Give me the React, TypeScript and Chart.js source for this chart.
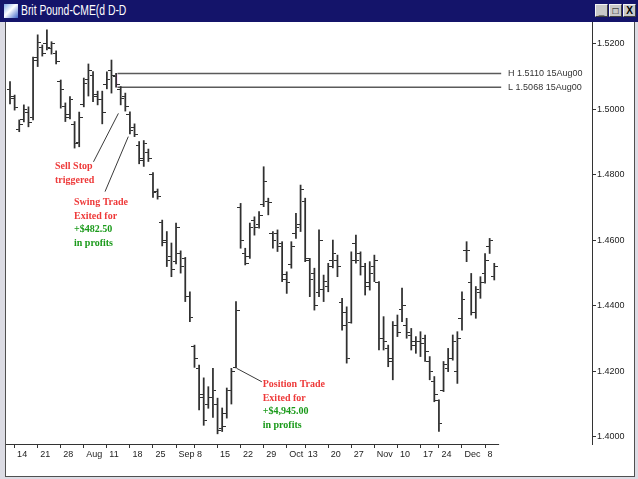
import React, { useEffect, useRef } from "react";
import { Chart, registerables } from "chart.js";

Chart.register(...registerables);

// Daily OHLC, British Pound (CME), 13 Jul 2000 .. 12 Dec 2000 (trading-day index 0..105)
const highs = [
  1.5085, 1.5044, 1.4968, 1.5014, 1.5008, 1.5160, 1.5228, 1.5197, 1.5243, 1.5207,
  1.5179, 1.5090, 1.5020, 1.5039, 1.4963, 1.4992, 1.5096, 1.5139, 1.5116, 1.5056,
  1.5056, 1.5115, 1.5151, 1.5110, 1.5070, 1.5050, 1.4993, 1.4956, 1.4902, 1.4905,
  1.4879, 1.4807, 1.4757, 1.4662, 1.4627, 1.4592, 1.4653, 1.4568, 1.4548, 1.4443,
  1.4280, 1.4219, 1.4180, 1.4153, 1.4209, 1.4118, 1.4088, 1.4149, 1.4209, 1.4413,
  1.4713, 1.4576, 1.4653, 1.4672, 1.4688, 1.4825, 1.4729, 1.4627, 1.4632, 1.4596,
  1.4504, 1.4596, 1.4683, 1.4769, 1.4729, 1.4545, 1.4515, 1.4632, 1.4494, 1.4530,
  1.4601, 1.4555, 1.4423, 1.4397, 1.4565, 1.4616, 1.4565, 1.4530, 1.4535, 1.4555,
  1.4474, 1.4367, 1.4280, 1.4352, 1.4372, 1.4454, 1.4362, 1.4331, 1.4306, 1.4321,
  1.4311, 1.4245, 1.4184, 1.4113, 1.4230, 1.4270, 1.4311, 1.4321, 1.4443, 1.4596,
  1.4499, 1.4459, 1.4489, 1.4560, 1.4606, 1.4530,
];
const lows = [
  1.5017, 1.4998, 1.4932, 1.4962, 1.4947, 1.4968, 1.5131, 1.5163, 1.5182, 1.5169,
  1.5139, 1.5004, 1.4963, 1.4971, 1.4882, 1.4886, 1.5008, 1.5041, 1.5024, 1.5014,
  1.4956, 1.5063, 1.5050, 1.5068, 1.5014, 1.4995, 1.4925, 1.4917, 1.4834, 1.4826,
  1.4841, 1.4731, 1.4726, 1.4583, 1.4520, 1.4489, 1.4528, 1.4500, 1.4413, 1.4352,
  1.4212, 1.4082, 1.4035, 1.4087, 1.4059, 1.4009, 1.4016, 1.4057, 1.4100, 1.4210,
  1.4576, 1.4525, 1.4545, 1.4616, 1.4637, 1.4703, 1.4678, 1.4576, 1.4566, 1.4474,
  1.4438, 1.4515, 1.4606, 1.4627, 1.4535, 1.4428, 1.4387, 1.4428, 1.4413, 1.4443,
  1.4516, 1.4489, 1.4326, 1.4225, 1.4347, 1.4530, 1.4494, 1.4433, 1.4448, 1.4474,
  1.4265, 1.4265, 1.4214, 1.4174, 1.4306, 1.4352, 1.4301, 1.4265, 1.4255, 1.4245,
  1.4230, 1.4174, 1.4107, 1.4016, 1.4138, 1.4199, 1.4234, 1.4163, 1.4326, 1.4535,
  1.4372, 1.4362, 1.4423, 1.4469, 1.4560, 1.4479,
];
const opens = [
  1.5060, 1.5035, 1.4940, 1.4970, 1.4990, 1.4975, 1.5160, 1.5190, 1.5200, 1.5185,
  1.5170, 1.5085, 1.5010, 1.4985, 1.4955, 1.4900, 1.5015, 1.5090, 1.5105, 1.5040,
  1.5030, 1.5075, 1.5120, 1.5100, 1.5060, 1.5040, 1.4985, 1.4945, 1.4890, 1.4850,
  1.4870, 1.4800, 1.4750, 1.4655, 1.4600, 1.4550, 1.4535, 1.4560, 1.4545, 1.4430,
  1.4275, 1.4210, 1.4130, 1.4100, 1.4120, 1.4100, 1.4025, 1.4070, 1.4140, 1.4212,
  1.4700, 1.4560, 1.4550, 1.4660, 1.4650, 1.4710, 1.4720, 1.4620, 1.4620, 1.4590,
  1.4495, 1.4525, 1.4620, 1.4650, 1.4720, 1.4540, 1.4500, 1.4440, 1.4450, 1.4460,
  1.4540, 1.4540, 1.4410, 1.4380, 1.4350, 1.4590, 1.4560, 1.4520, 1.4470, 1.4520,
  1.4470, 1.4300, 1.4270, 1.4230, 1.4340, 1.4390, 1.4340, 1.4310, 1.4280, 1.4290,
  1.4300, 1.4230, 1.4170, 1.4110, 1.4140, 1.4210, 1.4240, 1.4200, 1.4360, 1.4570,
  1.4470, 1.4380, 1.4440, 1.4500, 1.4580, 1.4490,
];
const closes = [
  1.5040, 1.5005, 1.4955, 1.5000, 1.4960, 1.5150, 1.5205, 1.5170, 1.5190, 1.5200,
  1.5145, 1.5060, 1.4975, 1.5030, 1.4895, 1.4975, 1.5080, 1.5120, 1.5045, 1.5030,
  1.4990, 1.5090, 1.5105, 1.5075, 1.5035, 1.5010, 1.4935, 1.4925, 1.4845, 1.4895,
  1.4850, 1.4745, 1.4735, 1.4595, 1.4540, 1.4510, 1.4640, 1.4520, 1.4430, 1.4365,
  1.4240, 1.4120, 1.4050, 1.4120, 1.4140, 1.4020, 1.4030, 1.4140, 1.4200, 1.4385,
  1.4600, 1.4530, 1.4640, 1.4640, 1.4675, 1.4780, 1.4715, 1.4600, 1.4580, 1.4480,
  1.4470, 1.4580, 1.4640, 1.4755, 1.4545, 1.4480, 1.4400, 1.4600, 1.4475, 1.4520,
  1.4560, 1.4520, 1.4340, 1.4240, 1.4540, 1.4540, 1.4520, 1.4460, 1.4500, 1.4540,
  1.4300, 1.4290, 1.4240, 1.4340, 1.4320, 1.4400, 1.4320, 1.4290, 1.4290, 1.4285,
  1.4260, 1.4200, 1.4130, 1.4040, 1.4220, 1.4240, 1.4290, 1.4300, 1.4420, 1.4570,
  1.4380, 1.4450, 1.4470, 1.4540, 1.4600, 1.4520,
];

// Weekly (Friday) date ticks on the time axis
const tickIndex = [1, 6, 11, 16, 21, 26, 31, 36, 40, 45, 50, 55, 60, 64, 69, 74, 79, 84, 89, 93, 98, 103];
const tickLabels = ["14", "21", "28", "Aug", "11", "18", "25", "Sep", "8", "15", "22", "29", "Oct", "13", "20", "27", "Nov", "10", "17", "24", "Dec", "8"];
const priceTicks = [1.40, 1.42, 1.44, 1.46, 1.48, 1.50, 1.52];

// Axis extent
const xMin = -0.87;
const xMax = 126.19;
const xAxisEnd = 106.05;
const yMin = 1.39779;
const yMax = 1.52672;

// 15 Aug 2000 high / low reference lines
const hlIndex = 23.1;
const hlLineStart = 23.3;
const hlLineEnd = 106.5;
const hlLabelX = 108.0;
const hlHigh = 1.5110;
const hlLow = 1.5068;
const hlLabels = ["H 1.5110 15Aug00", "L 1.5068 15Aug00"];

// Leader lines for the notes (index, price pairs)
const leaderSellX = [18.1, 23.5];
const leaderSellY = [1.4840, 1.4988];
const leaderSwingX = [20.6, 25.65];
const leaderSwingY = [1.4749, 1.4917];
const leaderPosX = [49.15, 54.6];
const leaderPosY = [1.4209, 1.4168];

// Note texts
const noteText = [
  "Sell Stop", "triggered",
  "Swing Trade", "Exited for", "+$482.50", "in profits",
  "Position Trade", "Exited for", "+$4,945.00", "in profits",
];
const noteColor = ["r", "r", "r", "r", "g", "g", "r", "r", "g", "g"];
const noteX = [9.76, 9.76, 13.88, 13.88, 13.88, 13.88, 54.79, 54.79, 54.79, 54.79];
const noteY = [1.4825, 1.4783, 1.4715, 1.4673, 1.4633, 1.4591, 1.4160, 1.4118, 1.4077, 1.4035];

const BAR = "#303030";

function makeTick(side: "l" | "r"): HTMLCanvasElement {
  const c = document.createElement("canvas");
  c.width = 7;
  c.height = 1;
  const g = c.getContext("2d")!;
  g.fillStyle = BAR;
  if (side === "l") g.fillRect(0, 0, 3, 1);
  else g.fillRect(4, 0, 3, 1);
  return c;
}

const overlay = {
  id: "overlay",
  afterDatasetsDraw(chart: any) {
    const { ctx, chartArea } = chart;
    const x = chart.scales.x;
    const y = chart.scales.y;
    ctx.save();
    // x axis line (only under the bars)
    ctx.strokeStyle = "#333";
    ctx.lineWidth = 1;
    const yb = Math.round(chartArea.bottom) + 0.5;
    ctx.beginPath();
    ctx.moveTo(chartArea.left, yb);
    ctx.lineTo(x.getPixelForValue(xAxisEnd), yb);
    ctx.stroke();

    // H / L labels
    ctx.font = "9px 'Liberation Sans', Arial, sans-serif";
    ctx.fillStyle = "#333";
    ctx.textBaseline = "middle";
    ctx.textAlign = "left";
    ctx.fillText(hlLabels[0], x.getPixelForValue(hlLabelX), y.getPixelForValue(hlHigh));
    ctx.fillText(hlLabels[1], x.getPixelForValue(hlLabelX), y.getPixelForValue(hlLow));

    // notes
    ctx.font = "bold 10px 'Liberation Serif', 'Times New Roman', serif";
    for (let i = 0; i < noteText.length; i++) {
      ctx.fillStyle = noteColor[i] === "r" ? "#ee3a3a" : "#1a9a1a";
      ctx.fillText(noteText[i], x.getPixelForValue(noteX[i]), y.getPixelForValue(noteY[i]));
    }
    ctx.restore();
  },
};

export default function App() {
  const ref = useRef<HTMLCanvasElement>(null);

  useEffect(() => {
    document.body.style.margin = "0";
    const leftTick = makeTick("l");
    const rightTick = makeTick("r");
    const line = (xs: number[], ys: number[], color: string, w: number) => ({
      type: "line" as const,
      data: xs.map((v, i) => ({ x: v, y: ys[i] })),
      borderColor: color,
      borderWidth: w,
      pointRadius: 0,
      fill: false,
      tension: 0,
    });

    const chart = new Chart(ref.current!, {
      type: "bar",
      data: {
        datasets: [
          {
            type: "bar",
            data: highs.map((h, i) => ({ x: i, y: [lows[i], h] })) as any,
            backgroundColor: BAR,
            borderWidth: 0,
            barThickness: 1.1,
            grouped: false,
          } as any,
          {
            type: "scatter",
            data: opens.map((o, i) => ({ x: i, y: o })),
            pointStyle: leftTick as any,
            pointRadius: 2,
          } as any,
          {
            type: "scatter",
            data: closes.map((c, i) => ({ x: i, y: c })),
            pointStyle: rightTick as any,
            pointRadius: 2,
          } as any,
          line([hlLineStart, hlLineEnd], [hlHigh, hlHigh], "#5a5a5a", 1.6),
          line([hlLineStart, hlLineEnd], [hlLow, hlLow], "#5a5a5a", 1.6),
          line([hlIndex, hlIndex], [hlLow, hlHigh], "#e040e0", 1.2),
          line(leaderSellX, leaderSellY, "#3a3a3a", 1),
          line(leaderSwingX, leaderSwingY, "#3a3a3a", 1),
          line(leaderPosX, leaderPosY, "#3a3a3a", 1),
        ] as any,
      },
      options: {
        responsive: false,
        animation: false,
        events: [],
        layout: { padding: { left: 6, top: 22, right: 0, bottom: 0 } },
        plugins: { legend: { display: false }, tooltip: { enabled: false } },
        scales: {
          x: {
            type: "linear",
            min: xMin,
            max: xMax,
            offset: false,
            afterBuildTicks: (s: any) => {
              s.ticks = tickIndex.map((v) => ({ value: v }));
            },
            afterFit: (s: any) => {
              s.height = 35;
            },
            grid: { display: true, drawOnChartArea: false, drawTicks: true, tickLength: 4, color: "#333", offset: false },
            border: { display: false },
            ticks: {
              autoSkip: false,
              maxRotation: 0,
              minRotation: 0,
              align: "start",
              padding: 1,
              color: "#222",
              font: { family: "'Liberation Sans', Arial, sans-serif", size: 9 },
              callback: (_v: any, i: number) => " " + tickLabels[i],
            },
          },
          y: {
            type: "linear",
            position: "right",
            min: yMin,
            max: yMax,
            afterBuildTicks: (s: any) => {
              s.ticks = priceTicks.map((v) => ({ value: v }));
            },
            afterFit: (s: any) => {
              s.width = 46;
            },
            grid: { display: true, drawOnChartArea: false, drawTicks: true, tickLength: 4, color: "#333" },
            border: { display: true, color: "#333", width: 1 },
            ticks: {
              padding: 1,
              color: "#222",
              font: { family: "'Liberation Sans', Arial, sans-serif", size: 9 },
              callback: (v: any) => Number(v).toFixed(4),
            },
          },
        },
      } as any,
      plugins: [overlay],
    });
    return () => chart.destroy();
  }, []);

  const btn = (left: number, label: string) => (
    <div
      style={{
        position: "absolute",
        left,
        top: 4,
        width: 13,
        height: 13,
        background: "#c8c8c8",
        borderTop: "1px solid #f4f4f4",
        borderLeft: "1px solid #f4f4f4",
        borderRight: "1px solid #404040",
        borderBottom: "1px solid #404040",
        boxSizing: "border-box",
        font: "bold 10px 'Liberation Sans', Arial, sans-serif",
        color: "#000",
        textAlign: "center",
        lineHeight: "11px",
      }}
    >
      {label}
    </div>
  );

  return (
    <div
      style={{
        position: "fixed",
        left: 0,
        top: 0,
        width: 638,
        height: 479,
        background: "#dcdce4",
        overflow: "hidden",
      }}
    >
      <div
        style={{
          position: "absolute",
          left: 0,
          top: 0,
          width: 638,
          height: 22,
          background: "#14146a",
        }}
      >
        <div
          style={{
            position: "absolute",
            left: 4,
            top: 4,
            width: 14,
            height: 14,
            background: "linear-gradient(135deg, #7fa8e8 0%, #ffffff 45%, #3c64c8 100%)",
          }}
        />
        <div
          style={{
            position: "absolute",
            left: 21,
            top: 2,
            color: "#ffffff",
            font: "14px 'Liberation Sans', Arial, sans-serif",
            whiteSpace: "nowrap",
            transform: "scaleX(0.74)",
            transformOrigin: "0 0",
          }}
        >
          Brit Pound-CME(d D-D
        </div>
        {btn(595, "_")}
        {btn(609, "□")}
        {btn(623, "X")}
      </div>
      <div
        style={{
          position: "absolute",
          left: 5,
          top: 22,
          width: 630,
          height: 455,
          background: "#ffffff",
          borderLeft: "1px solid #505050",
          borderRight: "1px solid #505050",
          borderBottom: "1px solid #505050",
          boxSizing: "border-box",
        }}
      />
      <canvas
        ref={ref}
        width={638}
        height={479}
        style={{ position: "absolute", left: 0, top: 0 }}
      />
    </div>
  );
}
